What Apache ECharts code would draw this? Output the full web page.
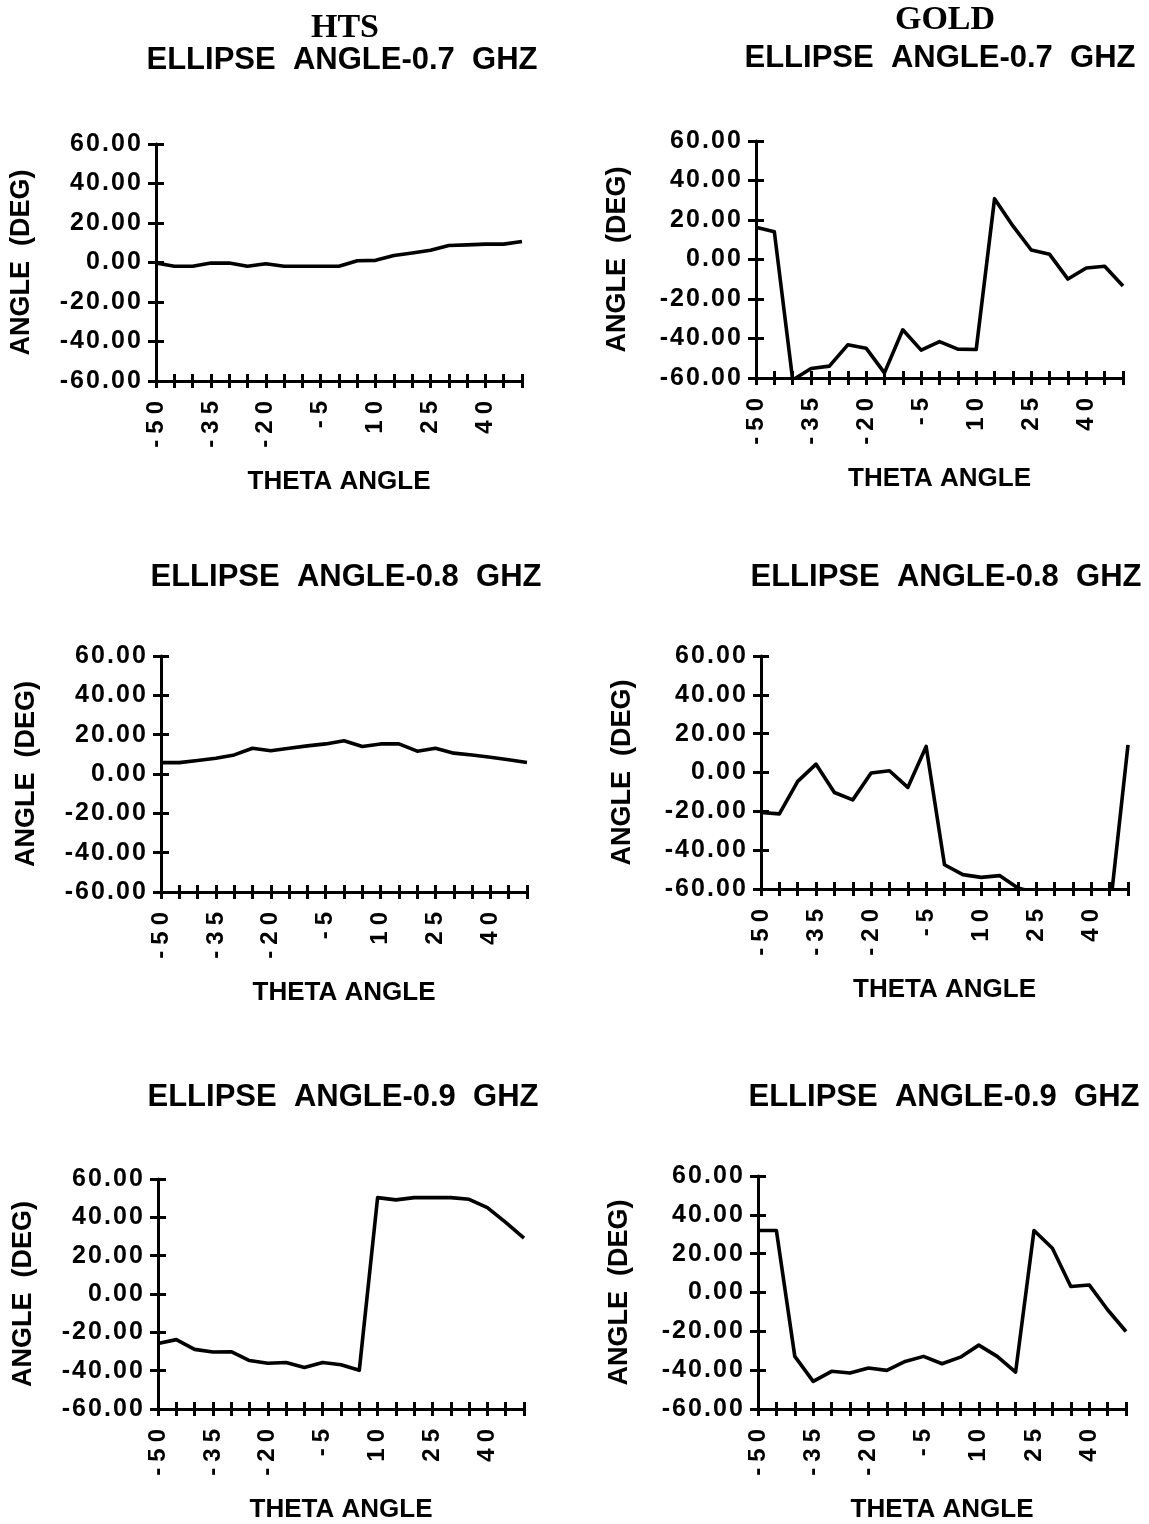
<!DOCTYPE html>
<html><head><meta charset="utf-8">
<script src="https://cdn.jsdelivr.net/npm/echarts@6/dist/echarts.min.js"></script>
<style>html,body{margin:0;padding:0;background:#fff}#c{width:1149px;height:1524px}</style>
</head><body><div id="c"></div><script>
// ---- data ----
const thetaCategories = ['-50','-45','-40','-35','-30','-25','-20','-15','-10','-5','0','5','10','15','20','25','30','35','40','45','50'];
const angleTicks = [-60, -40, -20, 0, 20, 40, 60];
const columnHeaders = ['HTS', 'GOLD'];
const panelTitles = ['ELLIPSE  ANGLE-0.7  GHZ', 'ELLIPSE  ANGLE-0.7  GHZ', 'ELLIPSE  ANGLE-0.8  GHZ', 'ELLIPSE  ANGLE-0.8  GHZ', 'ELLIPSE  ANGLE-0.9  GHZ', 'ELLIPSE  ANGLE-0.9  GHZ'];
const xAxisTitle = 'THETA ANGLE';
const yAxisTitle = 'ANGLE  (DEG)';
const htsAngle07 = [-0.3, -1.9, -1.9, -0.3, -0.3, -1.9, -0.6, -1.9, -1.9, -1.9, -1.9, 0.9, 1.1, 3.5, 4.8, 6.2, 8.6, 8.9, 9.3, 9.3, 10.6];
const goldAngle07 = [16.3, 14, -61, -55.2, -54, -43.2, -44.9, -57.4, -35.6, -45.9, -41.6, -45.4, -45.6, 30.8, 17, 4.8, 2.6, -9.9, -4.3, -3.4, -13.4];
const htsAngle08 = [5.8, 5.8, 6.9, 8, 9.7, 13.1, 11.8, 13.1, 14.3, 15.3, 16.9, 14, 15.3, 15.3, 11.6, 13.1, 10.6, 9.7, 8.5, 7.2, 5.8];
const goldAngle08 = [-20.6, -21.3, -4.6, 4.3, -10.3, -14.1, -0.3, 0.9, -7.7, 13.4, -47.5, -52.6, -54, -53.1, -59.5, -62, -71, -75, -75, -72, 14.2];
const htsAngle09 = [-25.8, -23.8, -28.9, -30.3, -30.1, -34.7, -36.1, -35.7, -38.3, -35.7, -36.9, -39.8, 50.3, 49.1, 50.3, 50.3, 50.3, 49.4, 45.1, 37.4, 29.2];
const goldAngle09 = [31.9, 31.9, -32.9, -45.8, -40.6, -41.5, -38.9, -40.1, -35.5, -32.9, -36.7, -33.3, -27.1, -32.9, -41, 31.9, 22.8, 3.1, 3.9, -8.9, -20.1];
const panelSeries = [htsAngle07, goldAngle07, htsAngle08, goldAngle08, htsAngle09, goldAngle09];

// ---- layout ----
const grids = [
  {left: 156, top: 144, width: 366, height: 237},
  {left: 756, top: 141, width: 367, height: 237},
  {left: 161, top: 656, width: 366, height: 236},
  {left: 761, top: 656, width: 367, height: 233},
  {left: 158, top: 1179, width: 366, height: 234},
  {left: 758, top: 1176, width: 368, height: 233}
];
const titlePos = [[342, 60], [940, 58], [346, 577], [946, 577], [343, 1097], [944, 1097]];
const headerPos = [[345, 28], [945, 20]];
const FONT = '"Liberation Sans", Arial, Helvetica, sans-serif';
const SERIF = '"Liberation Serif", "Times New Roman", serif';
const spaced = (s, sp) => String(s).split('').join(sp);

const option = {
  animation: false,
  backgroundColor: '#fff',
  grid: grids.map(g => Object.assign({containLabel: false}, g)),
  xAxis: [], yAxis: [], series: [],
  graphic: []
};

grids.forEach((g, i) => {
  const leftCol = g.left < 500;
  option.xAxis.push({
    type: 'category', gridIndex: i, data: thetaCategories, boundaryGap: false, position: 'bottom',
    axisLine: {show: true, onZero: false, lineStyle: {color: '#000', width: 3}},
    axisTick: {show: true, interval: 0, length: 7, lineStyle: {color: '#000', width: 3}},
    axisLabel: {interval: 2, rotate: 90, margin: 20, color: '#000', fontFamily: FONT, fontWeight: 'bold', fontSize: 24, formatter: v => spaced(v, '\u2005')},
    name: xAxisTitle, nameLocation: 'middle', nameGap: 88,
    nameTextStyle: {color: '#000', fontFamily: FONT, fontWeight: 'bold', fontSize: 26}
  });
  option.xAxis.push({
    type: 'category', gridIndex: i, data: thetaCategories, boundaryGap: false, position: 'bottom',
    axisLine: {show: false, onZero: false},
    axisTick: {show: true, inside: true, interval: 0, length: 7, lineStyle: {color: '#000', width: 3}},
    axisLabel: {show: false}
  });
  option.yAxis.push({
    type: 'value', gridIndex: i, min: angleTicks[0], max: angleTicks[angleTicks.length - 1], interval: 20, position: 'left',
    splitLine: {show: false},
    axisLine: {show: true, onZero: false, lineStyle: {color: '#000', width: 3}},
    axisTick: {show: true, length: 8, lineStyle: {color: '#000', width: 3}},
    axisLabel: {margin: 15, color: '#000', fontFamily: FONT, fontWeight: 'bold', fontSize: 25, formatter: v => spaced(v.toFixed(2), '\u200A')},
    name: yAxisTitle, nameLocation: 'middle', nameGap: leftCol ? 121 : 125,
    nameTextStyle: {color: '#000', fontFamily: FONT, fontWeight: 'bold', fontSize: 27}
  });
  option.yAxis.push({
    type: 'value', gridIndex: i, min: angleTicks[0], max: angleTicks[angleTicks.length - 1], interval: 20, position: 'left',
    splitLine: {show: false},
    axisLine: {show: false, onZero: false},
    axisTick: {show: true, inside: true, length: 8, lineStyle: {color: '#000', width: 3}},
    axisLabel: {show: false}
  });
  option.series.push({
    type: 'line', xAxisIndex: 2 * i, yAxisIndex: 2 * i, data: panelSeries[i],
    showSymbol: false, symbol: 'none', clip: true,
    lineStyle: {color: '#000', width: 3.6, join: 'round'}
  });
  option.graphic.push({
    type: 'text', x: titlePos[i][0], y: titlePos[i][1],
    style: {text: panelTitles[i], fill: '#000', font: 'bold 31px ' + FONT, textAlign: 'center', textVerticalAlign: 'middle'}
  });
});
columnHeaders.forEach((h, i) => {
  option.graphic.push({
    type: 'text', x: headerPos[i][0], y: headerPos[i][1],
    style: {text: h, fill: '#000', font: 'bold 34px ' + SERIF, textAlign: 'center', textVerticalAlign: 'middle'}
  });
});

const chart = echarts.init(document.getElementById('c'), null, {renderer: 'canvas'});
chart.setOption(option);
</script></body></html>
